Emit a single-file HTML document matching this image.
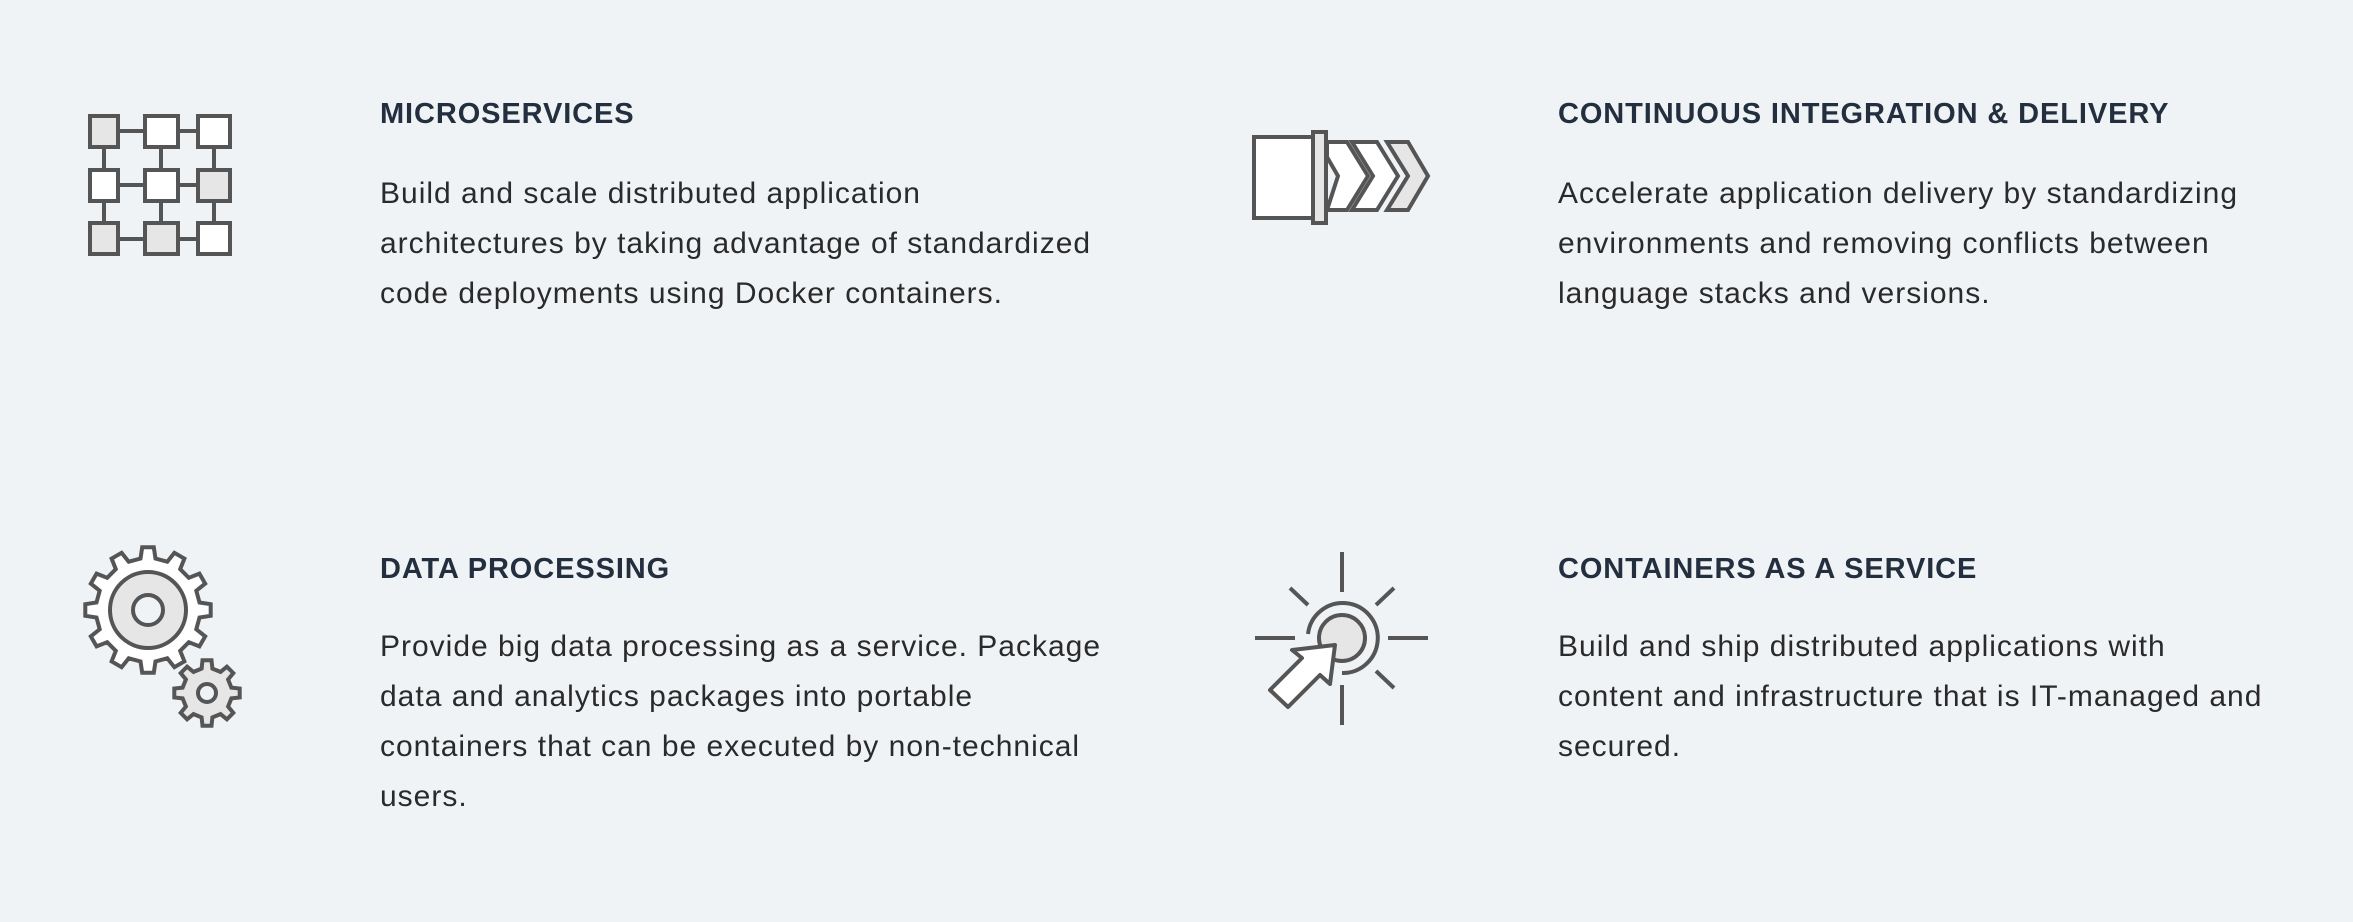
<!DOCTYPE html>
<html><head><meta charset="utf-8"><style>
html,body{margin:0;padding:0}
body{width:2353px;height:922px;background:#f0f3f6;position:relative;overflow:hidden;font-family:"Liberation Sans",sans-serif;color:#232f3e}
.t{position:absolute;font-weight:bold;font-size:29px;line-height:1;white-space:nowrap;letter-spacing:0.9px}
.b{position:absolute;font-size:30px;line-height:50px;white-space:nowrap;color:#2a2a2a;letter-spacing:1px}
svg{position:absolute;left:0;top:0}
</style></head><body>
<div class="t" style="left:380px;top:100px">MICROSERVICES</div>
<div class="b" style="left:380px;top:169px">Build and scale distributed application<br>architectures by taking advantage of standardized<br>code deployments using Docker containers.</div>
<div class="t" style="left:1558px;top:100px">CONTINUOUS INTEGRATION &amp; DELIVERY</div>
<div class="b" style="left:1558px;top:169px">Accelerate application delivery by standardizing<br>environments and removing conflicts between<br>language stacks and versions.</div>
<div class="t" style="left:380px;top:555px">DATA PROCESSING</div>
<div class="b" style="left:380px;top:622px">Provide big data processing as a service. Package<br>data and analytics packages into portable<br>containers that can be executed by non-technical<br>users.</div>
<div class="t" style="left:1558px;top:555px">CONTAINERS AS A SERVICE</div>
<div class="b" style="left:1558px;top:622px">Build and ship distributed applications with<br>content and infrastructure that is IT-managed and<br>secured.</div>
<svg width="2353" height="922" viewBox="0 0 2353 922" fill="none" stroke="#555" stroke-width="4">
<g stroke-width="4">
<path d="M118 131H145M178 131H198M118 185H145M178 185H198M118 239H145M178 239H198M104 147V170M104 201V223M161 147V170M161 201V223M214 147V170M214 201V223"/>
<rect x="90" y="116" width="28" height="31" fill="#e6e6e6"/>
<rect x="145" y="116" width="33" height="31" fill="#fff"/>
<rect x="198" y="116" width="32" height="31" fill="#fff"/>
<rect x="90" y="170" width="28" height="31" fill="#fff"/>
<rect x="145" y="170" width="33" height="31" fill="#fff"/>
<rect x="198" y="170" width="32" height="31" fill="#e6e6e6"/>
<rect x="90" y="223" width="28" height="31" fill="#e6e6e6"/>
<rect x="145" y="223" width="33" height="31" fill="#e6e6e6"/>
<rect x="198" y="223" width="32" height="31" fill="#fff"/>
</g>
<path id="g1" fill="#fff"/>
<circle cx="148" cy="610" r="38" fill="#e6e6e6"/>
<circle cx="148" cy="610" r="15" fill="#f0f3f6"/>
<path id="g2" fill="#e6e6e6"/>
<circle cx="207" cy="693" r="9" fill="#f0f3f6"/>
<path d="M1327 142L1347 142L1368 176L1347 210L1327 210L1338 176L1327 157Z" fill="#fff"/>
<path d="M1352 142L1377 142L1398 176L1377 210L1352 210L1373 176Z" fill="#fff"/>
<path d="M1387 142L1408 142L1428 176L1408 210L1387 210L1408 176Z" fill="#e6e6e6"/>
<rect x="1254" y="137" width="59" height="81" fill="#fff"/>
<rect x="1313" y="132" width="13" height="91" fill="#e6e6e6"/>
<path d="M1342 552V592M1342 685V725M1255 638H1295M1388 638H1428M1290 588L1308 605M1376 605L1394 588M1376 671L1394 688"/>
<path d="M1308 634A35 35 0 1 1 1342 673"/>
<circle cx="1342" cy="638" r="23" fill="#e6e6e6"/>
<path d="M1335 645L1330 684L1320 675L1288 707L1270 690L1302 658L1292 650Z" fill="#fff" stroke-linejoin="round"/>
</svg>
<script>
function gear(cx,cy,n,ro,ri){let d="";for(let i=0;i<n;i++){const a=i*2*Math.PI/n,h=Math.PI/n;const pts=[[ri,a-h*0.55],[ro,a-h*0.35],[ro,a+h*0.35],[ri,a+h*0.55],[ri,a+h*1.45]];pts.forEach((p,j)=>{d+=(i==0&&j==0?"M":"L")+(cx+p[0]*Math.cos(p[1])).toFixed(1)+" "+(cy+p[0]*Math.sin(p[1])).toFixed(1)});}return d+"Z";}
document.getElementById("g1").setAttribute("d",gear(148,610,12,63,52));
document.getElementById("g2").setAttribute("d",gear(207,693,8,33,25));
</script>
</body></html>
